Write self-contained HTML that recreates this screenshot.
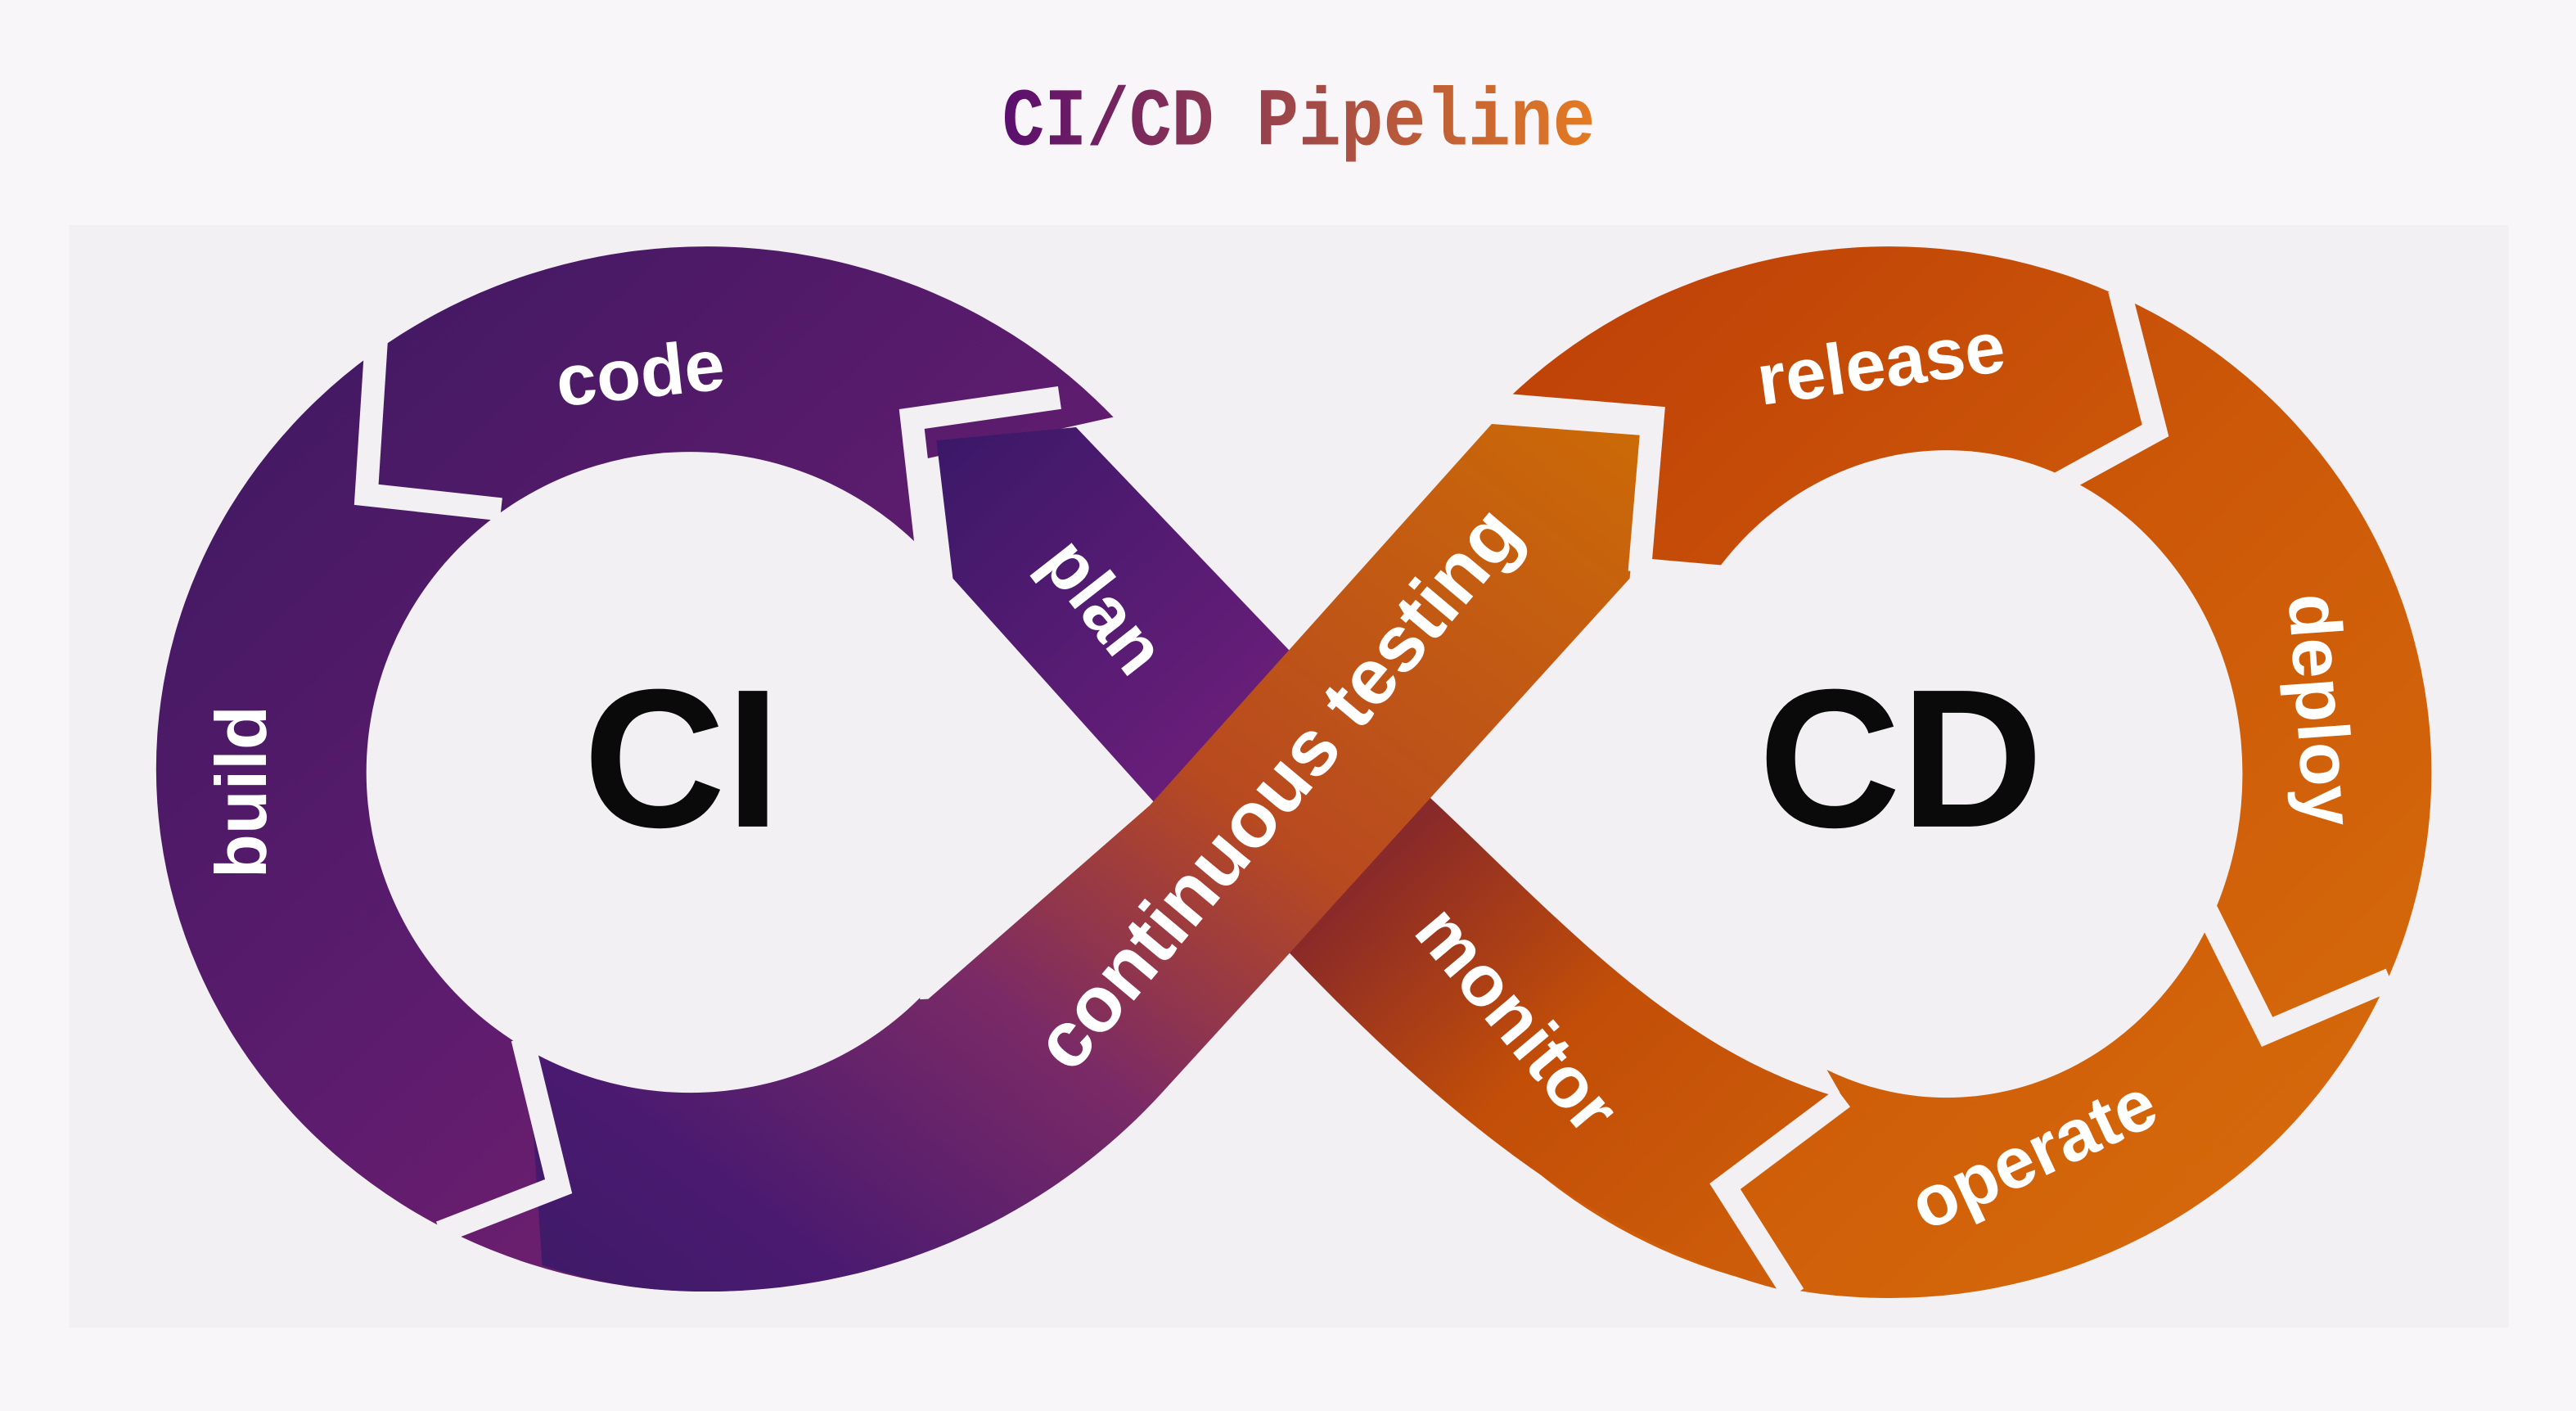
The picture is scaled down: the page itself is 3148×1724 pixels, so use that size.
<!DOCTYPE html>
<html><head><meta charset="utf-8"><style>html,body{margin:0;padding:0;background:#f8f6f9;}svg{display:block}</style></head>
<body>
<svg width="3148" height="1724" viewBox="0 0 1568 858.7" xmlns="http://www.w3.org/2000/svg">
<defs>
<linearGradient id="tg" x1="0" x2="1"><stop offset="0" stop-color="#5a0e6e"/><stop offset="0.5" stop-color="#a04848"/><stop offset="1" stop-color="#e57b22"/></linearGradient>
<linearGradient id="pg" x1="0" y1="0" x2="1" y2="1"><stop offset="0" stop-color="#3b1860"/><stop offset="0.5" stop-color="#5e1c6e"/><stop offset="1" stop-color="#86226e"/></linearGradient>
<linearGradient id="og" x1="0" y1="0" x2="1" y2="1"><stop offset="0" stop-color="#bb3a08"/><stop offset="0.5" stop-color="#cc5808"/><stop offset="1" stop-color="#d86e0c"/></linearGradient>
<linearGradient id="ctg" x1="1" y1="0" x2="0" y2="1"><stop offset="0" stop-color="#cc6a06"/><stop offset="0.4" stop-color="#b84a20"/><stop offset="0.62" stop-color="#7a2a66"/><stop offset="0.85" stop-color="#4a1a70"/><stop offset="1" stop-color="#3e1a68"/></linearGradient>
<linearGradient id="plg" x1="0" y1="0" x2="1" y2="1"><stop offset="0" stop-color="#3a1868"/><stop offset="0.35" stop-color="#6a1e7a"/><stop offset="0.5" stop-color="#8a2a28"/><stop offset="0.7" stop-color="#c24e08"/><stop offset="1" stop-color="#d0600a"/></linearGradient>
</defs>
<rect width="1568" height="858.7" fill="#f8f6f9"/>
<text x="610" y="88" font-family="Liberation Mono, monospace" font-weight="bold" font-size="50" textLength="361" lengthAdjust="spacingAndGlyphs" fill="url(#tg)">CI/CD Pipeline</text>
<rect x="42" y="137" width="1485" height="671" fill="#f2f0f2"/>

<path fill="url(#pg)" d="M430,150 A335,318 0 1,0 430.1,150 Z"/>
<path fill="url(#og)" d="M1150,150 A330,320 0 1,0 1150.1,150 Z"/>
<path fill="#f2f0f2" d="M560,280 L740,240 L915,240 L1012,250 L1003,340 L1060,345 L1030,470 L1050,560 L1100,630 L1120,665 L870,720 L780,660 L560,660 Z"/>

<path fill="url(#plg)" d="M570,268 L655,260 L870,485 C950,560 1020,640 1120,668 L1050,722 L1088,786 C980,760 880,680 785,580 L580,352 Z"/>
<path fill="url(#ctg)" d="M908,258 L1000,265 L992,352 L785,580 L710,662 C640,740 540,786 430,786 C390,786 360,780 330,770 L320,620 L565,608 L700,490 Z"/>

<ellipse cx="420" cy="470" rx="197" ry="195" fill="#f2f0f2"/>
<ellipse cx="1185" cy="471" rx="180" ry="197" fill="#f2f0f2"/>

<g stroke="#f2f0f2" stroke-width="14" fill="none" stroke-linejoin="miter" stroke-linecap="butt">
<polyline points="229,208 223,301 305,310"/>
<polyline points="645,242 555,255 566,352"/>
<polyline points="318,632 340,722 268,750"/>
<polyline points="910,246 1006,254 998,348"/>
<polyline points="1290,176 1312,262 1250,296"/>
<polyline points="1343,554 1380,628 1455,596"/>
<polyline points="1122,668 1050,722 1092,788"/>
</g>

<g font-family="Liberation Sans, sans-serif" font-weight="bold" fill="#fff" font-size="44">
<text x="390" y="242" text-anchor="middle" transform="rotate(-6 390 230)">code</text>
<text x="0" y="0" text-anchor="middle" transform="translate(162 482) rotate(-90)">build</text>
<text x="0" y="0" text-anchor="middle" transform="translate(660 378) rotate(52)">plan</text>
<text x="0" y="0" text-anchor="middle" font-size="48" transform="translate(790 490) rotate(-50)">continuous testing</text>
<text x="0" y="0" text-anchor="middle" transform="translate(912 630) rotate(50)">monitor</text>
<text x="0" y="0" text-anchor="middle" transform="translate(1147 236) rotate(-8)">release</text>
<text x="0" y="0" text-anchor="middle" transform="translate(1398 433) rotate(86)">deploy</text>
<text x="0" y="0" text-anchor="middle" transform="translate(1244 716) rotate(-25)">operate</text>
</g>
<g font-family="Liberation Sans, sans-serif" font-weight="bold" fill="#0a0a0a" font-size="120">
<text x="415" y="503" text-anchor="middle">CI</text>
<text x="1157" y="503" text-anchor="middle">CD</text>
</g>
</svg>
</body></html>
